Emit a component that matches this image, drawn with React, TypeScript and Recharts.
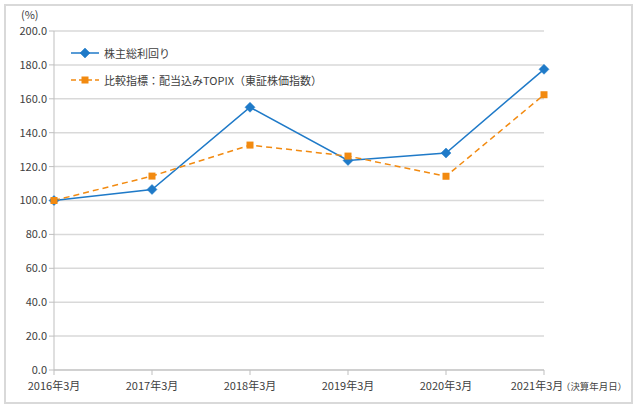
import React from 'react'
import { CartesianGrid, Line, LineChart, XAxis, YAxis } from 'recharts'

const categories = ['2016年3月', '2017年3月', '2018年3月', '2019年3月', '2020年3月', '2021年3月']
const tsrValues = [100, 106.5, 155.0, 123.6, 128.0, 177.4]
const topixValues = [100, 114.4, 132.7, 126.2, 114.3, 162.4]
const yTicks = [0, 20, 40, 60, 80, 100, 120, 140, 160, 180, 200]
const lastLabelNote = '（決算年月日）'

const seriesNames = {
    tsr: '株主総利回り',
    topix: '比較指標：配当込みTOPIX（東証株価指数）',
}

const BLUE = '#1f7ac8'
const ORANGE = '#f28a10'
const FONT = '"Noto Sans CJK JP", "Noto Sans", sans-serif'

const data = categories.map((c, i) => ({ name: c, tsr: tsrValues[i], topix: topixValues[i] }))

const Diamond = (props: any) => {
    const { cx, cy } = props
    if (cx == null || cy == null) return null
    return <path d={`M${cx},${cy - 5}L${cx + 5},${cy}L${cx},${cy + 5}L${cx - 5},${cy}Z`} fill={BLUE} stroke={BLUE} strokeWidth={0.5} />
}

const Square = (props: any) => {
    const { cx, cy } = props
    if (cx == null || cy == null) return null
    return <rect x={cx - 3.5} y={cy - 3.5} width={7} height={7} fill={ORANGE} />
}

const XTick = (props: any) => {
    const { x, y, payload, index } = props
    const last = index === categories.length - 1
    // last label sits a bit left so the note fits inside the frame
    const cx = last ? x - 7 : x
    return (
        <g>
            <text x={cx} y={y + 13} fill="#404040" fontSize={11} fontFamily={FONT} textAnchor="middle">
                {payload.value}
            </text>
            {last && (
                <text x={cx + 24} y={y + 13} fill="#404040" fontSize={9} fontFamily={FONT} textLength={66} lengthAdjust="spacingAndGlyphs">
                    {lastLabelNote}
                </text>
            )}
        </g>
    )
}

// legend drawn outside the chart so it doesn't eat the plot margin
const LegendBox = () => (
    <div style={{ position: 'absolute', left: 70, top: 39, fontFamily: FONT, fontSize: 11, color: '#404040' }}>
        <div style={{ display: 'flex', alignItems: 'center', height: 27 }}>
            <svg width={34} height={12}>
                <line x1={1} y1={6} x2={29} y2={6} stroke={BLUE} strokeWidth={1.5} />
                <Diamond cx={15} cy={6} />
            </svg>
            <span>{seriesNames.tsr}</span>
        </div>
        <div style={{ display: 'flex', alignItems: 'center', height: 27 }}>
            <svg width={34} height={12}>
                <line x1={1} y1={6} x2={29} y2={6} stroke={ORANGE} strokeWidth={1.5} strokeDasharray="5 3" />
                <Square cx={15} cy={6} />
            </svg>
            <span>{seriesNames.topix}</span>
        </div>
    </div>
)

const App = () => {
    return (
        <div style={{ position: 'absolute', left: 0, top: 0, width: 635, height: 405, background: '#fff' }}>
            <LineChart
                width={635}
                height={405}
                data={data}
                margin={{ top: 31, right: 91, left: 4, bottom: 5 }}
            >
                <CartesianGrid vertical={false} stroke="#d9d9d9" strokeWidth={1.5} />
                <XAxis
                    dataKey="name"
                    height={30}
                    interval={0}
                    stroke="#bfbfbf"
                    tickSize={5}
                    tick={<XTick />}
                />
                <YAxis
                    width={50}
                    domain={[0, 200]}
                    ticks={yTicks}
                    interval={0}
                    stroke="#bfbfbf"
                    tickSize={5}
                    tickFormatter={(v: number) => v.toFixed(1)}
                    tick={{ fontSize: 11, fill: '#404040', fontFamily: FONT }}
                />
                <Line
                    dataKey="tsr"
                    name={seriesNames.tsr}
                    stroke={BLUE}
                    strokeWidth={1.5}
                    dot={<Diamond />}
                    activeDot={false}
                    isAnimationActive={false}
                />
                <Line
                    dataKey="topix"
                    name={seriesNames.topix}
                    stroke={ORANGE}
                    strokeWidth={1.5}
                    strokeDasharray="6 4"
                    dot={<Square />}
                    activeDot={false}
                    isAnimationActive={false}
                />
            </LineChart>
            <LegendBox />
            <div style={{ position: 'absolute', left: 21, top: 9, fontFamily: FONT, fontSize: 11, lineHeight: '11px', color: '#404040' }}>(%)</div>
            <div style={{ position: 'absolute', left: 4, top: 4, width: 625, height: 396, border: '2px solid #d9d9d9', boxSizing: 'content-box', pointerEvents: 'none' }} />
        </div>
    )
}

export default App
